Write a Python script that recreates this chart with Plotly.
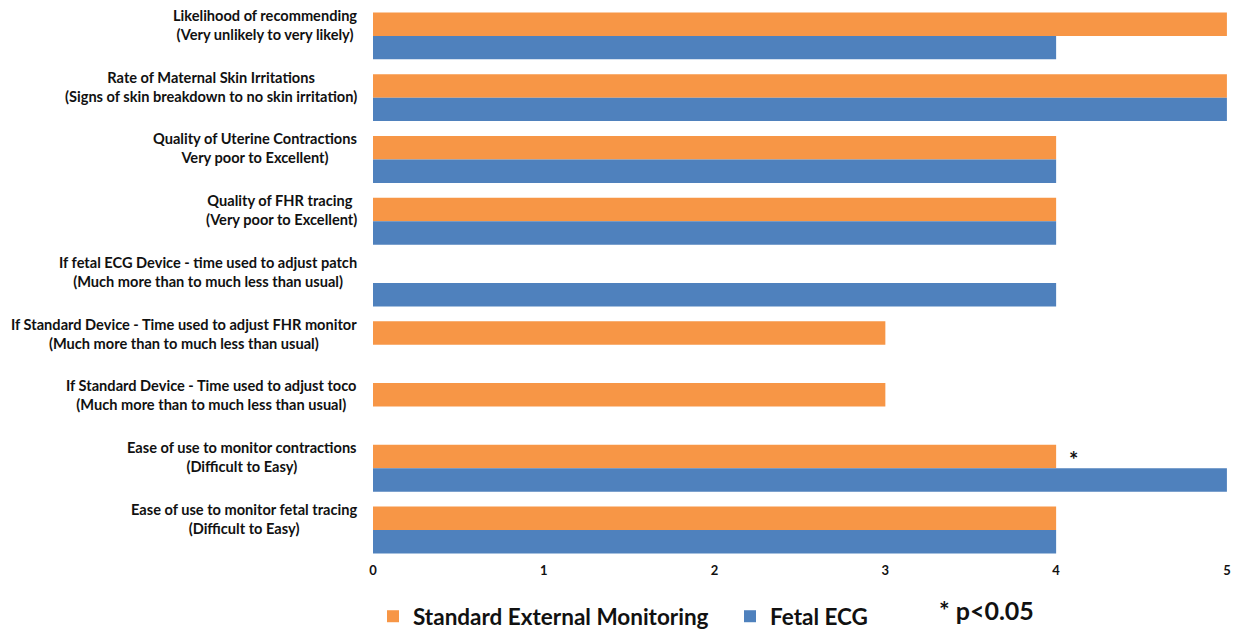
import plotly.graph_objects as go

categories = [
    "Likelihood of recommending<br>(Very unlikely to very likely)",
    "Rate of Maternal Skin Irritations<br>(Signs of skin breakdown to no skin irritation)",
    "Quality of Uterine Contractions<br>Very poor to Excellent)",
    "Quality of FHR tracing <br>(Very poor to Excellent)",
    "If fetal ECG Device - time used to adjust patch<br>(Much more than to much less than usual)",
    "If Standard Device - Time used to adjust FHR monitor<br>(Much more than to much less than usual)",
    "If Standard Device - Time used to adjust toco<br>(Much more than to much less than usual)",
    "Ease of use to monitor contractions<br>(Difficult to Easy)",
    "Ease of use to monitor fetal tracing<br>(Difficult to Easy)",
]
standard_values = [5, 5, 4, 4, None, 3, 3, 4, 4]
fetal_ecg_values = [4, 5, 4, 4, 4, None, None, 5, 4]
x_ticks = [0, 1, 2, 3, 4, 5]
significant_category = categories[7]

ORANGE = "#F79646"
BLUE = "#4F81BD"
FONT = "Lato"

fig = go.Figure()
fig.add_trace(go.Bar(
    y=categories, x=standard_values, orientation="h",
    name="Standard External Monitoring", marker=dict(color=ORANGE, line=dict(width=0)),
))
fig.add_trace(go.Bar(
    y=categories, x=fetal_ecg_values, orientation="h",
    name="Fetal ECG", marker=dict(color=BLUE, line=dict(width=0)),
))

annotations = []
for c in categories:
    annotations.append(dict(
        x=0, xref="paper", xanchor="right", xshift=-14,
        y=c, yref="y", yanchor="middle", yshift=11,
        text=c, align="center", showarrow=False,
        font=dict(family=FONT, size=14.6, color="#111", weight="bold"),
    ))

sig_idx = categories.index(significant_category)
annotations.append(dict(
    x=standard_values[sig_idx], xref="x", xanchor="center", xshift=17,
    y=significant_category, yref="y", yshift=9,
    text="*", showarrow=False,
    font=dict(family=FONT, size=22, color="#111", weight="bold"),
))
annotations.append(dict(
    x=0.66, xref="paper", xanchor="left",
    y=-0.088, yref="paper", yanchor="middle",
    text="* p<0.05", showarrow=False,
    font=dict(family=FONT, size=25, color="#111", weight="bold"),
))

fig.update_layout(
    width=1238, height=634,
    margin=dict(l=373, r=11, t=5, b=73, autoexpand=False),
    barmode="group", bargap=0.24, bargroupgap=0,
    plot_bgcolor="white", paper_bgcolor="white",
    showlegend=True,
    legend=dict(
        orientation="h", x=0.0, xanchor="left", y=-0.1, yanchor="middle",
        font=dict(family=FONT, size=22.5, color="#111", weight="bold"),
        traceorder="normal", itemwidth=30, entrywidth=312,
    ),
    annotations=annotations,
    xaxis=dict(
        range=[0, 5.0005], tickvals=x_ticks, showgrid=False, zeroline=False,
        showline=False, ticks="", ticklabeloverflow="allow",
        tickfont=dict(family=FONT, size=13, color="#111", weight="bold"),
    ),
    yaxis=dict(
        autorange="reversed", showticklabels=False, showgrid=False,
        zeroline=False, showline=False, ticks="",
    ),
)

fig.write_html(
    "out.html",
    config={"displayModeBar": False},
    post_script="document.body.style.margin='0';document.body.style.overflow='hidden';",
)
